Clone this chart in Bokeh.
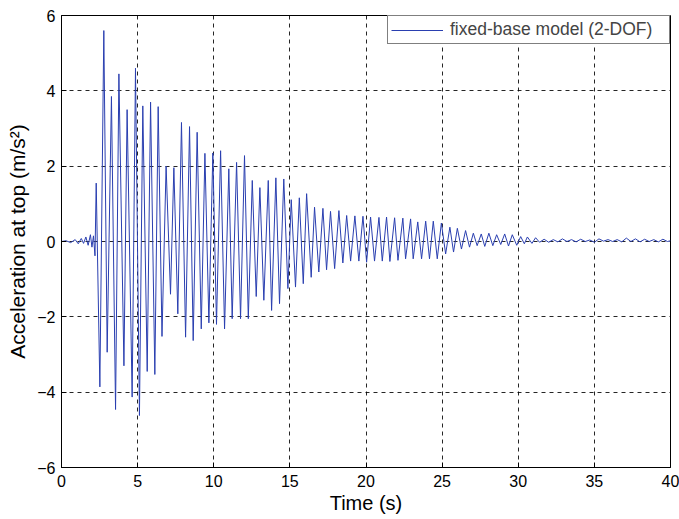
from bokeh.plotting import figure
from bokeh.models import Range1d, FixedTicker
from bokeh.embed import file_html
from bokeh.resources import INLINE

# Peak values (time in s, acceleration in m/s^2)
time_s = [
    0.0, 0.3, 0.6, 0.9, 1.1, 1.3, 1.45, 1.6, 1.75, 1.9, 2.0, 2.1, 2.2,
    2.28, 2.52, 2.78, 3.0, 3.28, 3.55, 3.77, 4.1, 4.31, 4.64, 4.86, 5.12,
    5.34, 5.63, 5.85, 6.13, 6.35, 6.6, 6.87, 7.16, 7.38, 7.64, 7.88, 8.15,
    8.41, 8.65, 8.91, 9.18, 9.42, 9.68, 9.94, 10.18, 10.45, 10.71, 10.99,
    11.21, 11.5, 11.76, 12.02, 12.27, 12.53, 12.79, 13.03, 13.29, 13.58,
    13.8, 14.08, 14.32, 14.6, 14.87, 15.09, 15.37, 15.62, 15.88, 16.1,
    16.4, 16.62, 16.9, 17.17, 17.41, 17.67, 17.94, 18.22, 18.48, 18.73,
    18.99, 19.27, 19.53, 19.8, 20.04, 20.3, 20.56, 20.85, 21.07, 21.35,
    21.57, 21.88, 22.1, 22.42, 22.6, 22.93, 23.1, 23.4, 23.65, 23.92,
    24.17, 24.42, 24.68, 24.95, 25.23, 25.51, 25.75, 26.0, 26.27, 26.54,
    26.8, 27.05, 27.3, 27.57, 27.8, 28.07, 28.33, 28.58, 28.85, 29.11,
    29.36, 29.61, 29.9, 30.16, 30.4, 30.6, 30.9, 31.14,
    31.4, 31.7, 32.0, 32.3, 32.6, 32.9, 33.2, 33.5, 33.8, 34.1, 34.4,
    34.7, 35.0, 35.3, 35.6, 35.9, 36.2, 36.5, 36.8, 37.1, 37.4, 37.7,
    38.0, 38.3, 38.6, 38.9, 39.2, 39.5, 39.8, 40.0,
]
accel = [
    0.0, 0.02, -0.03, 0.05, -0.06, 0.08, -0.05, 0.12, -0.1, 0.18, -0.15, 0.15, -0.38,
    1.55, -3.86, 5.6, -2.94, 3.85, -4.46, 4.45, -3.3, 3.5, -4.13, 4.6, -4.62,
    3.6, -3.45, 3.7, -3.53, 3.58, -2.52, 2.0, -1.4, 1.96, -1.92, 3.16, -2.54,
    3.05, -2.63, 2.9, -2.32, 2.34, -2.16, 2.35, -2.2, 2.41, -2.32, 1.93,
    -2.05, 2.1, -2.05, 2.28, -2.05, 1.62, -1.46, 1.43, -1.56, 1.62,
    -1.83, 1.69, -1.65, 1.66, -1.25, 1.11, -1.21, 1.16, -1.12, 1.27,
    -0.95, 0.91, -0.81, 0.88, -0.75, 0.8, -0.72, 0.82, -0.57, 0.69,
    -0.52, 0.68, -0.52, 0.67, -0.55, 0.65, -0.52, 0.64, -0.52, 0.65,
    -0.53, 0.63, -0.5, 0.62, -0.46, 0.6, -0.46, 0.52, -0.46, 0.54,
    -0.46, 0.54, -0.46, 0.49, -0.33, 0.38, -0.28, 0.35, -0.2, 0.29,
    -0.15, 0.22, -0.11, 0.2, -0.13, 0.22, -0.11, 0.18, -0.08, 0.2,
    -0.12, 0.18, -0.1, 0.13, -0.06, 0.12, -0.05, 0.1,
    -0.02, 0.06, -0.02, 0.05, -0.01, 0.07, 0.0, 0.05, -0.01, 0.06, 0.0,
    0.04, -0.02, 0.07, 0.01, 0.05, 0.0, 0.05, -0.01, 0.09, 0.0, 0.07,
    -0.01, 0.06, 0.0, 0.05, -0.01, 0.06, 0.0, 0.02,
]
x_ticks = [0, 5, 10, 15, 20, 25, 30, 35, 40]
y_ticks = [-6, -4, -2, 0, 2, 4, 6]
series_label = "fixed-base model (2-DOF)"

FONT = "Liberation Sans"

p = figure(width=679, height=519, output_backend="svg", toolbar_location=None,
           x_range=Range1d(0, 40), y_range=Range1d(-6, 6),
           min_border_left=61, min_border_right=9, min_border_top=15,
           min_border_bottom=52)
p.background_fill_color = "white"
p.border_fill_color = "white"
p.outline_line_color = "black"
p.outline_line_width = 1

p.line(time_s, accel, line_color="#2a3fb0", line_width=1, legend_label=series_label)

for ax in (p.xaxis[0], p.yaxis[0]):
    ax.major_tick_in = 5
    ax.major_tick_out = 0
    ax.minor_tick_line_color = None
    ax.axis_line_color = "black"
    ax.major_label_text_font = FONT
    ax.major_label_text_font_size = "16px"
    ax.major_label_text_color = "black"
    ax.axis_label_text_font = FONT
    ax.axis_label_text_font_style = "normal"
    ax.axis_label_text_color = "black"

p.xaxis[0].axis_label_text_font_size = "20px"
p.yaxis[0].axis_label_text_font_size = "21px"
p.xaxis[0].ticker = FixedTicker(ticks=x_ticks)
p.yaxis[0].ticker = FixedTicker(ticks=y_ticks)
p.xaxis[0].axis_label = "Time (s)"
p.yaxis[0].axis_label = "Acceleration at top (m/s²)"
p.xaxis[0].major_label_standoff = 7
p.yaxis[0].major_label_standoff = 6
p.xaxis[0].axis_label_standoff = 2
p.yaxis[0].axis_label_standoff = 5

p.xgrid.ticker = FixedTicker(ticks=x_ticks)
p.ygrid.ticker = FixedTicker(ticks=y_ticks)
for g in (p.xgrid[0], p.ygrid[0]):
    g.grid_line_color = "black"
    g.grid_line_dash = "4 4"
    g.grid_line_alpha = 0.85
    g.grid_line_width = 1

lg = p.legend[0]
lg.location = "top_right"
lg.margin = 0
lg.padding = 3
lg.border_line_color = "black"
lg.border_line_width = 1
lg.background_fill_alpha = 1
lg.label_text_font = FONT
lg.label_text_font_size = "17.5px"
lg.glyph_width = 52
lg.glyph_height = 18
lg.label_standoff = 7
lg.label_height = 18
lg.label_width = 216
lg.spacing = 0

open("out.html", "w").write(file_html(p, INLINE))
